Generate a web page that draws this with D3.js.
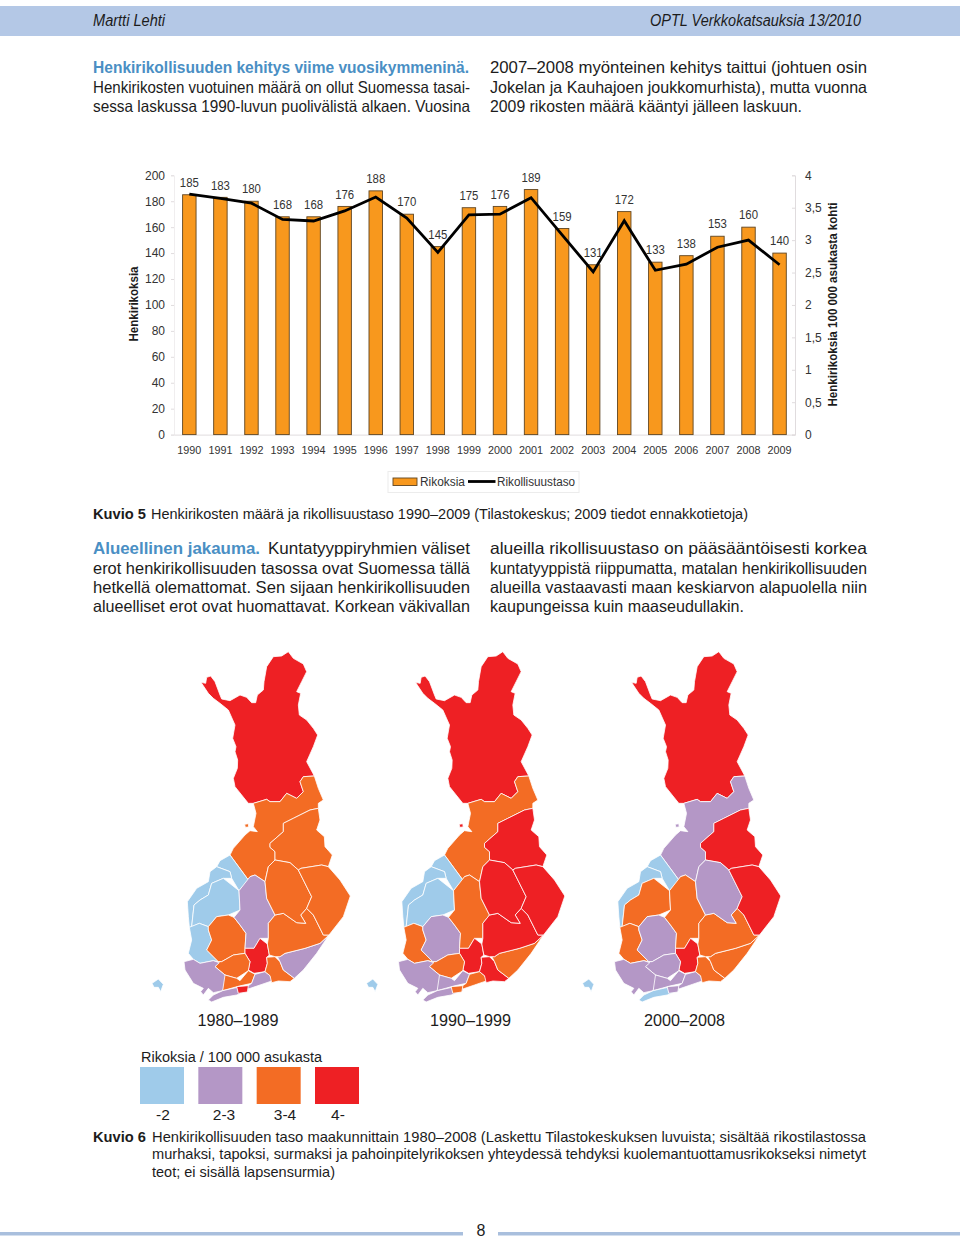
<!DOCTYPE html>
<html><head><meta charset="utf-8">
<script src="https://cdn.jsdelivr.net/npm/d3@7"></script>
<style>html,body{margin:0;padding:0;background:#fff}svg{display:block}text{font-family:"Liberation Sans",Arial,sans-serif;fill:#1c1c1c}</style>
</head><body><svg id="c" width="960" height="1239"></svg>
<script>
// ---- chart data
const years=[1990,1991,1992,1993,1994,1995,1996,1997,1998,1999,2000,2001,2002,2003,2004,2005,2006,2007,2008,2009];
const rikoksia=[185,183,180,168,168,176,188,170,145,175,176,189,159,131,172,133,138,153,160,140];
const rikollisuustaso=[3.71,3.645,3.57,3.32,3.295,3.45,3.665,3.34,2.81,3.39,3.40,3.655,3.08,2.51,3.30,2.535,2.63,2.89,3.0,2.62];
const leftTicks=[0,20,40,60,80,100,120,140,160,180,200];
const rightTicks=[0,0.5,1,1.5,2,2.5,3,3.5,4];
// ---- map data: class per region, per period (0:-2, 1:2-3, 2:3-4, 3:4-)
const regionNames=["Lappi","PohjoisPohjanmaa","Kainuu","KeskiPohjanmaa","Pohjanmaa","EtelaPohjanmaa","Satakunta","Pirkanmaa","KeskiSuomi","PaijatHame","KantaHame","VarsinaisSuomi","Uusimaa","ItaUusimaa","Helsinki","Turunmaa","Kymenlaakso","EtelaKarjala","EtelaSavo","PohjoisSavo","PohjoisKarjala","Ahvenanmaa","Hailuoto"];
const classes1980=[3,2,2,0,0,0,0,2,1,3,2,1,2,1,3,1,2,1,2,2,2,0,2];
const classes1990=[3,2,3,0,0,0,2,1,2,3,2,1,1,2,2,1,3,2,3,3,3,0,3];
const classes2000=[3,1,3,0,0,2,2,1,2,3,1,1,1,1,1,0,2,2,2,1,3,0,1];
const periods=["1980–1989","1990–1999","2000–2008"];
const classLabels=["-2","2-3","3-4","4-"];
const classColors=["#9fcbea","#b497c6","#f36c24","#ee2024"];
// region outlines, traced in a single map's own coordinate frame
const shapes={
Lappi:[[183,127],[197,130],[200,112],[212,108],[225,125],[240,165],[245,177],[270,182],[300,165],[320,172],[335,188],[347,188],[352,165],[370,150],[372,125],[380,80],[400,50],[425,48],[445,35],[460,55],[490,72],[500,95],[485,125],[470,155],[482,160],[475,195],[478,225],[500,240],[520,265],[533,285],[520,320],[500,365],[523,408],[490,410],[480,425],[490,455],[470,475],[440,460],[420,485],[390,485],[380,478],[340,490],[325,490],[305,465],[285,440],[280,415],[292,385],[293,360],[285,335],[288,320],[278,295],[285,255],[265,210],[240,190],[220,175],[205,160]],
PohjoisPohjanmaa:[[340,490],[380,478],[390,485],[420,485],[440,460],[470,475],[490,455],[480,425],[490,410],[523,408],[535,445],[550,480],[535,490],[535,505],[510,510],[460,535],[430,550],[430,575],[390,610],[390,622],[405,635],[405,660],[385,680],[375,725],[345,705],[330,710],[325,720],[270,645],[280,625],[315,585],[330,572],[352,575],[340,560],[348,520]],
Kainuu:[[535,505],[540,540],[530,570],[553,590],[555,620],[577,645],[565,680],[545,675],[483,685],[475,690],[450,668],[405,660],[405,635],[390,622],[390,610],[430,575],[430,550],[460,535],[510,510]],
KeskiPohjanmaa:[[270,645],[325,720],[297,752],[275,715],[270,695],[230,680],[240,662]],
Pohjanmaa:[[230,680],[270,695],[275,715],[250,715],[215,730],[205,765],[180,780],[162,795],[155,860],[148,862],[145,830],[142,785],[170,745],[205,725],[210,695]],
EtelaPohjanmaa:[[155,860],[162,795],[180,780],[205,765],[215,730],[250,715],[297,752],[300,810],[265,825],[230,830],[205,860],[178,850]],
Satakunta:[[148,862],[178,850],[205,860],[205,870],[215,900],[200,930],[235,965],[220,962],[180,970],[160,958],[145,940],[155,900]],
Pirkanmaa:[[205,860],[230,830],[265,825],[282,832],[300,855],[318,880],[315,925],[315,940],[280,945],[245,965],[235,965],[200,930],[215,900],[205,870]],
KeskiSuomi:[[297,752],[330,710],[345,705],[375,725],[380,775],[405,825],[385,850],[385,895],[360,895],[342,925],[315,925],[318,880],[300,855],[282,832],[300,810]],
PaijatHame:[[360,895],[382,912],[388,945],[380,952],[382,970],[375,995],[342,1000],[325,990],[330,965],[315,940],[315,925],[342,925]],
KantaHame:[[225,980],[235,965],[245,965],[280,945],[315,940],[330,965],[325,992],[290,1015],[255,1005]],
VarsinaisSuomi:[[132,965],[160,958],[180,970],[220,962],[238,968],[225,980],[255,1005],[265,1012],[248,1052],[220,1058],[205,1045],[190,1065],[182,1055],[190,1045],[160,1030],[135,990]],
Uusimaa:[[255,1005],[290,1015],[300,1022],[325,992],[345,1003],[335,1030],[298,1038],[248,1052]],
ItaUusimaa:[[345,1003],[375,995],[390,1007],[398,1022],[360,1035],[325,1047],[320,1040],[335,1030]],
Helsinki:[[290,1040],[325,1037],[322,1056],[295,1060]],
Turunmaa:[[205,1080],[220,1065],[248,1052],[292,1042],[295,1058],[325,1047],[325,1052],[290,1065],[250,1072],[215,1086]],
Kymenlaakso:[[380,952],[405,950],[420,965],[430,990],[463,1015],[450,1025],[415,1023],[395,1028],[390,1007],[375,995],[382,970]],
EtelaKarjala:[[567,885],[540,910],[495,925],[435,940],[420,950],[412,950],[420,965],[430,990],[463,1015],[490,990],[530,940]],
EtelaSavo:[[385,850],[405,825],[430,820],[470,848],[497,850],[482,825],[500,805],[520,825],[550,885],[567,885],[540,910],[495,925],[435,940],[420,950],[405,950],[388,945],[382,912],[385,895]],
PohjoisSavo:[[385,680],[405,660],[450,668],[475,690],[490,720],[515,770],[500,805],[482,825],[497,850],[470,848],[430,820],[405,825],[380,775],[375,725]],
PohjoisKarjala:[[475,690],[483,685],[545,675],[565,680],[600,720],[631,768],[610,830],[567,885],[550,885],[520,825],[500,805],[515,770],[490,720]],
Ahvenanmaa:[[36,1030],[55,1017],[70,1033],[62,1055],[55,1042],[42,1042]],
Hailuoto:[[314,553],[325,551],[326,561],[316,562]]
};
const mapOffsets=[0,214.5,430.5];
const allClasses=[classes1980,classes1990,classes2000];
// ---- text
const BLUE="#4a8fc4";
const textLines=[
 {t:"Martti Lehti",x:93,y:26,w:72,i:1,s:16},
 {t:"OPTL Verkkokatsauksia 13/2010",x:650,y:26,w:211,i:1,s:16},
 {t:"Henkirikollisuuden kehitys viime vuosikymmeninä.",x:93,y:73,w:376,b:1,c:BLUE},
 {t:"Henkirikosten vuotuinen määrä on ollut Suomessa tasai-",x:93,y:93,w:377},
 {t:"sessa laskussa 1990-luvun puolivälistä alkaen. Vuosina",x:93,y:112,w:377},
 {t:"2007–2008 myönteinen kehitys taittui (johtuen osin",x:490,y:73,w:377},
 {t:"Jokelan ja Kauhajoen joukkomurhista), mutta vuonna",x:490,y:93,w:377},
 {t:"2009 rikosten määrä kääntyi jälleen laskuun.",x:490,y:112,w:312},
 {t:"Kuvio 5",x:93,y:519,w:53,b:1,s:15},
 {t:"Henkirikosten määrä ja rikollisuustaso 1990–2009 (Tilastokeskus; 2009 tiedot ennakkotietoja)",x:151,y:519,w:597,s:15},
 {t:"Alueellinen jakauma.",x:93,y:554,w:167,b:1,c:BLUE},
 {t:"Kuntatyyppiryhmien väliset",x:268,y:554,w:202},
 {t:"erot henkirikollisuuden tasossa ovat Suomessa tällä",x:93,y:574,w:377},
 {t:"hetkellä olemattomat. Sen sijaan henkirikollisuuden",x:93,y:593,w:377},
 {t:"alueelliset erot ovat huomattavat. Korkean väkivallan",x:93,y:612,w:377},
 {t:"alueilla rikollisuustaso on pääsääntöisesti korkea",x:490,y:554,w:377},
 {t:"kuntatyyppistä riippumatta, matalan henkirikollisuuden",x:490,y:574,w:377},
 {t:"alueilla vastaavasti maan keskiarvon alapuolella niin",x:490,y:593,w:377},
 {t:"kaupungeissa kuin maaseudullakin.",x:490,y:612,w:254},
 {t:"Rikoksia / 100 000 asukasta",x:141,y:1062,w:181,s:15.5},
 {t:"Kuvio 6",x:93,y:1142,w:53,b:1,s:15},
 {t:"Henkirikollisuuden taso maakunnittain 1980–2008 (Laskettu Tilastokeskuksen luvuista; sisältää rikostilastossa",x:152,y:1142,w:714,s:15},
 {t:"murhaksi, tapoksi, surmaksi ja pahoinpitelyrikoksen yhteydessä tehdyksi kuolemantuottamusrikokseksi nimetyt",x:152,y:1159,w:714,s:15},
 {t:"teot; ei sisällä lapsensurmia)",x:152,y:1177,w:183,s:15},
];
const svg=d3.select("#c");
// page furniture
svg.append("rect").attr("x",0).attr("y",6).attr("width",960).attr("height",30).attr("fill","#b4c8e6");
svg.append("rect").attr("x",0).attr("y",1232).attr("width",463).attr("height",3.5).attr("fill","#a9bfdd");
svg.append("rect").attr("x",498).attr("y",1232).attr("width",462).attr("height",3.5).attr("fill","#a9bfdd");
svg.append("text").attr("x",481).attr("y",1235.5).attr("text-anchor","middle").attr("font-size",16).text("8");
svg.append("g").selectAll("text").data(textLines).join("text")
 .attr("x",d=>d.x).attr("y",d=>d.y)
 .attr("font-size",d=>d.s||16.5)
 .attr("font-weight",d=>d.b?"bold":null)
 .attr("font-style",d=>d.i?"italic":null)
 .attr("textLength",d=>d.w).attr("lengthAdjust","spacingAndGlyphs")
 .style("fill",d=>d.c||null).text(d=>d.t);
// ---- combo chart
const x=d3.scaleBand().domain(years).range([173.8,795.1]).paddingInner(0.567).paddingOuter(0.2835);
const yL=d3.scaleLinear().domain([0,200]).range([434.6,175.3]);
const yR=d3.scaleLinear().domain([0,4]).range([434.6,175.3]);
const AX="#e0dcde";
const g=svg.append("g");
const axL=g.append("g").attr("transform","translate(174,0)").call(d3.axisLeft(yL).tickValues(leftTicks).tickSize(3).tickPadding(6).tickFormat(d3.format("d")));
const axR=g.append("g").attr("transform","translate(795,0)").call(d3.axisLeft(yR).tickValues(rightTicks).tickSize(3).tickFormat(d=>String(d).replace(".",",")));
[axL,axR].forEach(a=>{a.select(".domain").attr("stroke",AX);a.selectAll("line").attr("stroke",AX);a.selectAll("text").attr("font-size",12).attr("font-family",null).style("fill","#333");});
axL.select(".domain").attr("stroke","#f0eeef");
axR.selectAll("text").attr("text-anchor","start").attr("x",10);
const axB=g.append("g").attr("transform","translate(0,434.6)").call(d3.axisBottom(x).tickSize(0).tickPadding(11).tickFormat(d3.format("d")));
axB.select(".domain").attr("stroke",AX);
axB.selectAll("text").attr("font-size",11.8).attr("textLength",24).attr("lengthAdjust","spacingAndGlyphs").style("fill","#333");
g.append("g").selectAll("rect").data(years).join("rect")
 .attr("x",d=>x(d)).attr("width",x.bandwidth())
 .attr("y",(d,i)=>yL(rikoksia[i])).attr("height",(d,i)=>yL(0)-yL(rikoksia[i]))
 .attr("fill","#f8981d").attr("stroke","#5f4522").attr("stroke-width",0.9);
g.append("path").attr("fill","none").attr("stroke","#000").attr("stroke-width",2.8).attr("stroke-linejoin","miter")
 .attr("d",d3.line().x((d,i)=>x(years[i])+x.bandwidth()/2).y(d=>yR(d))(rikollisuustaso));
g.append("g").selectAll("text").data(years).join("text")
 .attr("x",d=>x(d)+x.bandwidth()/2).attr("y",(d,i)=>yL(rikoksia[i])-12).attr("dy","0.35em")
 .attr("text-anchor","middle").attr("font-size",12).attr("textLength",19).attr("lengthAdjust","spacingAndGlyphs").style("fill","#333").text((d,i)=>rikoksia[i]);
g.append("text").attr("transform","translate(138,304) rotate(-90)").attr("text-anchor","middle").attr("font-size",12.5).attr("font-weight","bold").attr("textLength",75).attr("lengthAdjust","spacingAndGlyphs").text("Henkirikoksia");
g.append("text").attr("transform","translate(837,304.5) rotate(-90)").attr("text-anchor","middle").attr("font-size",12.5).attr("font-weight","bold").attr("textLength",204).attr("lengthAdjust","spacingAndGlyphs").text("Henkirikoksia 100 000 asukasta kohti");
// chart legend
g.append("rect").attr("x",388).attr("y",471.5).attr("width",191).attr("height",21).attr("fill","#fff").attr("stroke","#ececec");
g.append("rect").attr("x",393).attr("y",478).attr("width",24).attr("height",7.5).attr("fill","#f8981d").attr("stroke","#5f4522").attr("stroke-width",0.9);
g.append("text").attr("x",420).attr("y",486).attr("font-size",12).attr("textLength",45).attr("lengthAdjust","spacingAndGlyphs").style("fill","#333").text("Rikoksia");
g.append("line").attr("x1",468).attr("x2",495.5).attr("y1",481.5).attr("y2",481.5).attr("stroke","#000").attr("stroke-width",2.8);
g.append("text").attr("x",497).attr("y",486).attr("font-size",12).attr("textLength",78).attr("lengthAdjust","spacingAndGlyphs").style("fill","#333").text("Rikollisuustaso");
// ---- maps
const mx=d3.scaleLinear().domain([0,690]).range([140,370]);
const my=d3.scaleLinear().domain([0,1110]).range([640,1010]);
const outline=d3.line().x(d=>mx(d[0])).y(d=>my(d[1])).curve(d3.curveLinearClosed);
const color=d3.scaleOrdinal().domain([0,1,2,3]).range(classColors);
const labelCenters=[238,470.5,684.5];
periods.forEach((p,k)=>{
 const m=svg.append("g").attr("transform",`translate(${mapOffsets[k]},0)`);
 m.selectAll("path").data(regionNames).join("path")
  .attr("d",n=>outline(shapes[n])).attr("fill",(n,i)=>color(allClasses[k][i]))
  .attr("stroke","#fff").attr("stroke-width",0.8).attr("stroke-linejoin","round");
 m.selectAll("path").filter(n=>n==="Helsinki").raise();
 svg.append("text").attr("x",labelCenters[k]).attr("y",1026).attr("text-anchor","middle").attr("font-size",17).attr("textLength",81).attr("lengthAdjust","spacingAndGlyphs").text(p);
});
// ---- map legend
const lx=d3.scalePoint().domain(classLabels).range([140,315]);
const lg=svg.append("g");
lg.selectAll("rect").data(classLabels).join("rect").attr("x",d=>lx(d)).attr("y",1067).attr("width",44).attr("height",37).attr("fill",(d,i)=>classColors[i]);
const labelX=[163,224,285,338];
lg.selectAll("text").data(classLabels).join("text").attr("x",(d,i)=>labelX[i]).attr("y",1120).attr("text-anchor","middle").attr("font-size",15.5).text(d=>d);
</script></body></html>
